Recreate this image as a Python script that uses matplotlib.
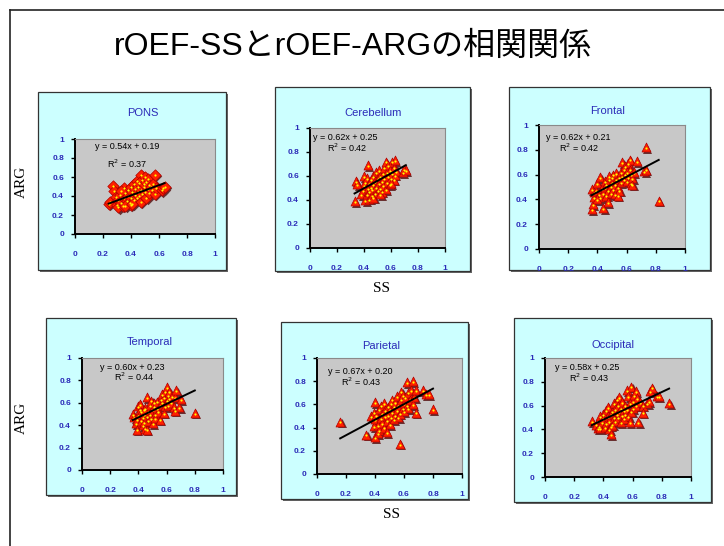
import numpy as np
import matplotlib
matplotlib.use("Agg")
import matplotlib.pyplot as plt
from matplotlib.patches import Rectangle

plt.rcParams['font.family'] = ['Liberation Sans', 'Noto Sans CJK JP', 'DejaVu Sans']

# ---- data: (SS, ARG) pairs per region, regression coefficients ----
pons_x = [0.24, 0.25, 0.27, 0.28, 0.29, 0.30, 0.31, 0.31, 0.32, 0.33, 0.34, 0.35, 0.35, 0.36, 0.37,
          0.38, 0.38, 0.39, 0.40, 0.40, 0.40, 0.41, 0.42, 0.42, 0.43, 0.43, 0.44, 0.44, 0.45, 0.45,
          0.46, 0.46, 0.47, 0.47, 0.47, 0.48, 0.48, 0.49, 0.49, 0.50, 0.50, 0.51, 0.51, 0.52, 0.52,
          0.53, 0.53, 0.54, 0.55, 0.56, 0.57, 0.57, 0.58, 0.62, 0.63, 0.64, 0.36, 0.33, 0.41]
pons_y = [0.32, 0.34, 0.51, 0.45, 0.39, 0.31, 0.28, 0.36, 0.41, 0.33, 0.30, 0.38, 0.48, 0.43, 0.35,
          0.40, 0.46, 0.33, 0.31, 0.38, 0.50, 0.44, 0.36, 0.53, 0.41, 0.47, 0.38, 0.56, 0.44, 0.50,
          0.40, 0.54, 0.46, 0.34, 0.62, 0.42, 0.57, 0.49, 0.53, 0.44, 0.60, 0.38, 0.55, 0.47, 0.58,
          0.43, 0.52, 0.50, 0.46, 0.53, 0.62, 0.42, 0.48, 0.46, 0.48, 0.50, 0.30, 0.45, 0.32]

cere_x = [0.33, 0.34, 0.35, 0.38, 0.39, 0.40, 0.40, 0.41, 0.41, 0.42, 0.42, 0.43, 0.43, 0.44, 0.44,
          0.44, 0.45, 0.45, 0.46, 0.46, 0.47, 0.47, 0.48, 0.48, 0.49, 0.49, 0.50, 0.50, 0.51, 0.51,
          0.52, 0.52, 0.53, 0.53, 0.54, 0.54, 0.55, 0.55, 0.56, 0.56, 0.57, 0.57, 0.58, 0.58, 0.59,
          0.59, 0.60, 0.61, 0.61, 0.62, 0.62, 0.63, 0.63, 0.64, 0.69, 0.70, 0.71, 0.47, 0.52, 0.60]
cere_y = [0.39, 0.56, 0.53, 0.45, 0.48, 0.52, 0.60, 0.40, 0.55, 0.45, 0.58, 0.50, 0.69, 0.41, 0.47,
          0.54, 0.57, 0.51, 0.44, 0.49, 0.53, 0.60, 0.46, 0.56, 0.51, 0.63, 0.48, 0.58, 0.54, 0.65,
          0.50, 0.60, 0.47, 0.56, 0.62, 0.52, 0.58, 0.67, 0.72, 0.49, 0.55, 0.63, 0.60, 0.69, 0.53,
          0.65, 0.58, 0.62, 0.72, 0.57, 0.67, 0.73, 0.61, 0.64, 0.63, 0.66, 0.65, 0.42, 0.45, 0.54]

front_x = [0.36, 0.36, 0.37, 0.38, 0.38, 0.39, 0.40, 0.41, 0.42, 0.42, 0.43, 0.44, 0.44, 0.45, 0.45,
           0.46, 0.46, 0.47, 0.47, 0.48, 0.48, 0.49, 0.49, 0.50, 0.50, 0.51, 0.51, 0.52, 0.52, 0.53,
           0.53, 0.54, 0.54, 0.55, 0.55, 0.56, 0.56, 0.57, 0.57, 0.58, 0.58, 0.59, 0.59, 0.60, 0.60,
           0.61, 0.61, 0.62, 0.62, 0.63, 0.63, 0.64, 0.64, 0.65, 0.67, 0.72, 0.73, 0.73, 0.82, 0.40]
front_y = [0.32, 0.48, 0.36, 0.42, 0.46, 0.47, 0.53, 0.44, 0.58, 0.42, 0.49, 0.33, 0.45, 0.55, 0.50,
           0.43, 0.52, 0.38, 0.47, 0.56, 0.59, 0.45, 0.51, 0.54, 0.58, 0.48, 0.60, 0.52, 0.44, 0.56,
           0.61, 0.43, 0.50, 0.58, 0.47, 0.62, 0.54, 0.70, 0.59, 0.64, 0.56, 0.67, 0.60, 0.55, 0.62,
           0.69, 0.58, 0.64, 0.72, 0.60, 0.53, 0.57, 0.52, 0.62, 0.71, 0.63, 0.64, 0.82, 0.39, 0.40]

temp_x = [0.36, 0.37, 0.38, 0.39, 0.39, 0.40, 0.40, 0.41, 0.41, 0.42, 0.42, 0.43, 0.43, 0.44, 0.44,
          0.45, 0.45, 0.46, 0.46, 0.46, 0.47, 0.47, 0.48, 0.48, 0.49, 0.49, 0.50, 0.50, 0.51, 0.51,
          0.52, 0.52, 0.53, 0.53, 0.54, 0.55, 0.55, 0.56, 0.57, 0.57, 0.58, 0.58, 0.59, 0.59, 0.60,
          0.60, 0.61, 0.61, 0.62, 0.62, 0.63, 0.64, 0.65, 0.66, 0.66, 0.67, 0.69, 0.70, 0.80, 0.44]
temp_y = [0.50, 0.47, 0.42, 0.45, 0.36, 0.49, 0.57, 0.54, 0.59, 0.44, 0.52, 0.47, 0.40, 0.50, 0.43,
          0.55, 0.37, 0.48, 0.65, 0.36, 0.52, 0.44, 0.58, 0.50, 0.46, 0.62, 0.54, 0.42, 0.57, 0.60,
          0.50, 0.46, 0.55, 0.61, 0.52, 0.58, 0.45, 0.63, 0.60, 0.68, 0.51, 0.65, 0.70, 0.57, 0.74,
          0.62, 0.67, 0.58, 0.64, 0.70, 0.60, 0.66, 0.56, 0.53, 0.65, 0.71, 0.56, 0.63, 0.51, 0.54]

pari_x = [0.16, 0.34, 0.37, 0.39, 0.39, 0.40, 0.40, 0.40, 0.41, 0.42, 0.42, 0.43, 0.43, 0.44, 0.44,
          0.45, 0.45, 0.46, 0.46, 0.47, 0.47, 0.48, 0.48, 0.49, 0.49, 0.50, 0.50, 0.51, 0.51, 0.52,
          0.52, 0.53, 0.53, 0.54, 0.54, 0.55, 0.55, 0.56, 0.56, 0.57, 0.57, 0.58, 0.58, 0.59, 0.59,
          0.60, 0.60, 0.61, 0.62, 0.62, 0.63, 0.63, 0.64, 0.65, 0.66, 0.66, 0.67, 0.68, 0.68, 0.73,
          0.75, 0.77, 0.80]
pari_y = [0.45, 0.34, 0.50, 0.53, 0.41, 0.62, 0.32, 0.47, 0.51, 0.42, 0.35, 0.56, 0.38, 0.48, 0.59,
          0.44, 0.52, 0.61, 0.40, 0.50, 0.55, 0.36, 0.46, 0.58, 0.51, 0.43, 0.56, 0.61, 0.49, 0.53,
          0.64, 0.47, 0.58, 0.62, 0.51, 0.55, 0.67, 0.59, 0.49, 0.26, 0.52, 0.64, 0.71, 0.57, 0.68,
          0.61, 0.54, 0.66, 0.59, 0.79, 0.70, 0.57, 0.64, 0.72, 0.60, 0.80, 0.66, 0.53, 0.72, 0.72,
          0.69, 0.69, 0.56]

occi_x = [0.32, 0.35, 0.36, 0.37, 0.38, 0.38, 0.39, 0.40, 0.40, 0.41, 0.42, 0.42, 0.43, 0.43, 0.44,
          0.44, 0.45, 0.45, 0.45, 0.46, 0.46, 0.47, 0.47, 0.48, 0.48, 0.49, 0.49, 0.50, 0.50, 0.51,
          0.51, 0.52, 0.52, 0.53, 0.53, 0.54, 0.54, 0.55, 0.55, 0.56, 0.56, 0.57, 0.57, 0.58, 0.58,
          0.59, 0.59, 0.60, 0.60, 0.61, 0.62, 0.62, 0.63, 0.64, 0.65, 0.67, 0.67, 0.70, 0.71, 0.72,
          0.73, 0.77, 0.78, 0.85]
occi_y = [0.47, 0.44, 0.41, 0.43, 0.51, 0.41, 0.46, 0.53, 0.49, 0.42, 0.56, 0.45, 0.51, 0.59, 0.47,
          0.40, 0.53, 0.36, 0.43, 0.55, 0.44, 0.62, 0.50, 0.57, 0.47, 0.65, 0.53, 0.60, 0.50, 0.55,
          0.67, 0.46, 0.58, 0.52, 0.63, 0.56, 0.49, 0.60, 0.53, 0.73, 0.57, 0.68, 0.51, 0.62, 0.46,
          0.76, 0.55, 0.64, 0.58, 0.69, 0.72, 0.60, 0.66, 0.46, 0.63, 0.60, 0.54, 0.62, 0.64, 0.72,
          0.75, 0.68, 0.68, 0.62]

regions = ['PONS', 'Cerebellum', 'Frontal', 'Temporal', 'Parietal', 'Occipital']
slopes = [0.54, 0.62, 0.62, 0.60, 0.67, 0.58]
intercepts = [0.19, 0.25, 0.21, 0.23, 0.20, 0.25]
r2 = [0.37, 0.42, 0.42, 0.44, 0.43, 0.43]
xs = [pons_x, cere_x, front_x, temp_x, pari_x, occi_x]
ys = [pons_y, cere_y, front_y, temp_y, pari_y, occi_y]
ticks = [0, 0.2, 0.4, 0.6, 0.8, 1]
tick_labels = ['0', '0.2', '0.4', '0.6', '0.8', '1']

# ---- layout in pixels (left, top, right, bottom) ----
W, H = 724, 546
boxes = [(38, 92, 226, 270), (275, 87, 470, 271), (509, 87, 710, 270),
         (46, 318, 236, 495), (281, 322, 468, 499), (514, 318, 711, 502)]
plots = [(75, 139, 215, 234), (310, 128, 445, 248), (539, 125, 685, 249),
         (82, 358, 223, 470), (317, 358, 462, 474), (545, 358, 691, 477)]
titles_at = [(143, 113), (373, 113), (608, 111), (150, 342), (381, 346), (613, 345)]
eq_at = [(95, 147), (313, 138), (546, 137), (100, 367), (328, 372), (555, 368)]
r2_at = [(107, 164), (327, 148), (559, 148), (114, 377), (341, 382), (569, 378)]

blue = '#2b2bb8'


def fx(px):
    return px / W


def fy(py):
    return 1 - py / H


fig = plt.figure(figsize=(7.24, 5.46), dpi=100)
fig.patch.set_facecolor('white')

# slide frame
fig.add_artist(plt.Line2D([fx(10), fx(10)], [0, fy(10)], color='#222222', lw=1.2))
fig.add_artist(plt.Line2D([fx(10), 1], [fy(10), fy(10)], color='#222222', lw=1.2))

fig.text(fx(353), fy(47), 'rOEF-SSとrOEF-ARGの相関関係', fontsize=23,
         ha='center', va='center', family=['Liberation Sans', 'Noto Sans CJK JP'])

for i in range(6):
    l, t, r, b = boxes[i]
    fig.add_artist(Rectangle((fx(l + 2), fy(b + 2)), (r - l) / W, (b - t) / H,
                             transform=fig.transFigure, facecolor='#666666',
                             edgecolor='none', zorder=-2))
    fig.add_artist(Rectangle((fx(l), fy(b)), (r - l) / W, (b - t) / H,
                             transform=fig.transFigure, facecolor='#ccffff',
                             edgecolor='#333333', lw=0.9, zorder=-1))

    l, t, r, b = plots[i]
    ax = fig.add_axes([fx(l), fy(b), (r - l) / W, (b - t) / H])
    ax.set_facecolor('#c8c8c8')
    ax.set_xlim(0, 1)
    ax.set_ylim(0, 1)
    for s in ['top', 'right']:
        ax.spines[s].set_color('#8a8a8a')
        ax.spines[s].set_linewidth(0.8)
    for s in ['left', 'bottom']:
        ax.spines[s].set_color('black')
        ax.spines[s].set_linewidth(1.4)
    ax.set_xticks(ticks)
    ax.set_yticks(ticks)
    ax.set_xticklabels(tick_labels)
    ax.set_yticklabels(tick_labels)
    ax.tick_params(direction='out', length=3, width=1, color='black',
                   labelsize=6, labelcolor=blue)
    ax.tick_params(axis='x', pad=9)
    ax.tick_params(axis='y', pad=5)
    for lab in ax.get_xticklabels() + ax.get_yticklabels():
        lab.set_fontweight('bold')

    x = np.array(xs[i])
    y = np.array(ys[i])
    mk = 'D' if i == 0 else '^'
    size = 34 if i == 0 else 42
    # shadow, red marker, small yellow centre
    ax.scatter(x + 0.01, y - 0.014, marker=mk, s=size, color='#6a3030', lw=0, zorder=2)
    ax.scatter(x, y, marker=mk, s=size, color='#ff2000', edgecolor='#b00000',
               lw=0.5, zorder=3)
    ax.scatter(x, y - (0 if i == 0 else 0.006), marker='o', s=2.5,
               color='#ffff00', lw=0, zorder=4)

    xl = np.array([x.min(), x.max()])
    ax.plot(xl, slopes[i] * xl + intercepts[i], color='black', lw=1.4, zorder=5)

    fig.text(fx(titles_at[i][0]), fy(titles_at[i][1]), regions[i], fontsize=8,
             color=blue, ha='center', va='center')
    fig.text(fx(eq_at[i][0]), fy(eq_at[i][1]),
             'y = %.2fx + %.2f' % (slopes[i], intercepts[i]),
             fontsize=6.5, ha='left', va='center')
    fig.text(fx(r2_at[i][0]), fy(r2_at[i][1]), 'R$^2$ = %.2f' % r2[i],
             fontsize=6.5, ha='left', va='center')

# axis titles shared by each row
for yy in [182, 418]:
    fig.text(fx(21), fy(yy), 'ARG', rotation=90, fontsize=11, ha='center',
             va='center', family='Liberation Serif')
fig.text(fx(381), fy(289), 'SS', fontsize=11, ha='center', va='center',
         family='Liberation Serif')
fig.text(fx(392), fy(515), 'SS', fontsize=11, ha='center', va='center',
         family='Liberation Serif')

fig.savefig('out.png', dpi=100)
